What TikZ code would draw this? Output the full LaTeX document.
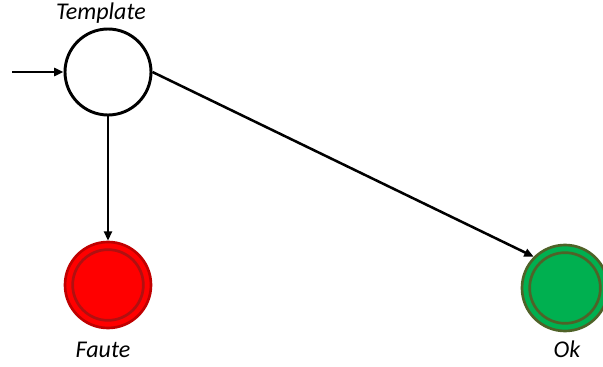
\documentclass[tikz,border=0pt]{standalone}
\usepackage{fontspec}
\setmainfont{Carlito}
\usetikzlibrary{arrows.meta}
\definecolor{redfill}{HTML}{FF0000}
\definecolor{redline}{HTML}{C00000}
\definecolor{redring}{HTML}{B01010}
\definecolor{greenfill}{HTML}{00B050}
\definecolor{greenline}{HTML}{4F6228}
\begin{document}
\begin{tikzpicture}[x=0.75pt,y=-0.75pt,
  state/.style={circle,draw=black,line width=2.2pt,minimum size=64.5pt,inner sep=0pt,fill=white},
  outer/.style={circle,line width=2pt,minimum size=64.5pt,inner sep=0pt},
  inner/.style={circle,line width=2pt,minimum size=53pt,inner sep=0pt},
  lbl/.style={font=\itshape\fontsize{18}{21}\selectfont,anchor=base,inner sep=0pt},
  conn/.style={-{Triangle[length=7pt,width=6pt]},line width=1.9pt}]
\useasboundingbox (0,0) rectangle (603,367);
\clip (0,0) rectangle (603,367);
\node[state] (t) at (108,72) {};
\node[outer,draw=redline,fill=redfill] (f) at (108,285) {};
\node[inner,draw=redring] (fi) at (108,285) {};
\node[outer,draw=greenline,fill=greenfill] (ok) at (565,288) {};
\node[inner,draw=greenline] (oki) at (565,288) {};
\node[lbl] (tl) at (101,20) {Template};
\node[lbl] (fl) at (103,357) {Faute};
\node[lbl] (okl) at (567,357) {Ok};
\coordinate (in) at (12,72);
\draw[conn] (in) -- (t.west);
\draw[conn] (t.south) -- (f.north);
\draw[conn] (t.east) -- (ok.north west);
\end{tikzpicture}
\end{document}
